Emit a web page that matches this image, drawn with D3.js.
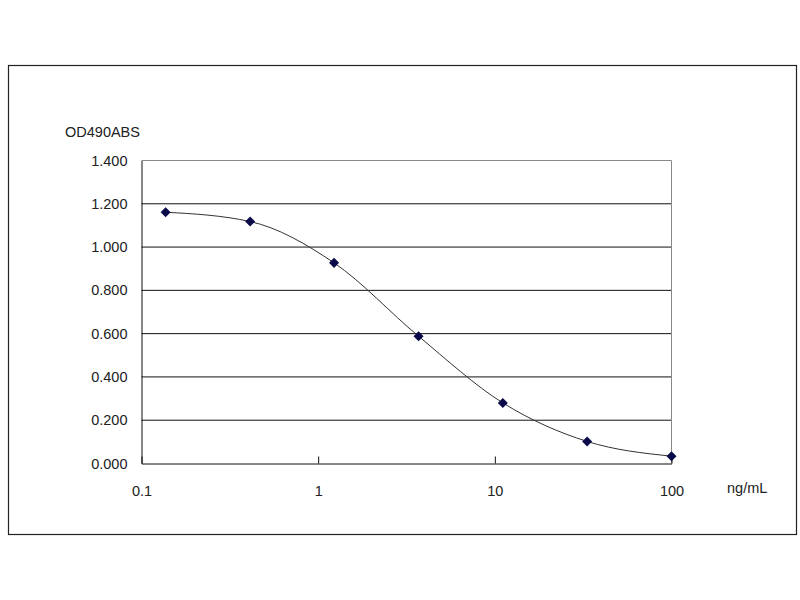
<!DOCTYPE html>
<html>
<head>
<meta charset="utf-8">
<script src="https://cdn.jsdelivr.net/npm/d3@7"></script>
<style>
  body { margin: 0; background: #fff; }
  text { font-family: "Liberation Sans", Arial, sans-serif; font-size: 14.5px; fill: #222; }
</style>
</head>
<body>
<div id="chart"></div>
<script>
// concentrations (ng/mL) and OD490 absorbance
const conc = [0.137, 0.412, 1.23, 3.70, 11.1, 33.3, 100];
const od = [1.161, 1.118, 0.927, 0.588, 0.280, 0.102, 0.034];
const xTicks = [0.1, 1, 10, 100];
const yTicks = [0, 0.2, 0.4, 0.6, 0.8, 1.0, 1.2, 1.4];

const width = 800;
const height = 600;
const margin = { top: 160.5, right: 128.5, bottom: 136.5, left: 141.5 };
const chartWidth = width - margin.left - margin.right;
const chartHeight = height - margin.top - margin.bottom;

const svg = d3.select("#chart")
  .append("svg")
  .attr("width", width)
  .attr("height", height);

// outer frame
svg.append("rect")
  .attr("x", 8.5)
  .attr("y", 65.5)
  .attr("width", 788)
  .attr("height", 469)
  .attr("fill", "none")
  .attr("stroke", "#222")
  .attr("stroke-width", 1.2);

const g = svg.append("g")
  .attr("transform", `translate(${margin.left},${margin.top})`);

const x = d3.scaleLog()
  .domain([0.1, 100])
  .range([0, chartWidth]);

const y = d3.scaleLinear()
  .domain([0, 1.4])
  .range([chartHeight, 0]);

// gridlines
g.selectAll("line.grid")
  .data(yTicks.filter(d => d > 0 && d < 1.4))
  .enter()
  .append("line")
  .attr("class", "grid")
  .attr("x1", 0)
  .attr("x2", chartWidth)
  .attr("y1", d => y(d))
  .attr("y2", d => y(d))
  .attr("stroke", "#111")
  .attr("stroke-width", 1);

// plot border top / right (gray)
g.append("path")
  .attr("d", `M0,${y(1.4)}H${chartWidth}V${chartHeight}`)
  .attr("fill", "none")
  .attr("stroke", "#888")
  .attr("stroke-width", 1);

// x axis
const xAxis = d3.axisBottom(x)
  .tickValues(xTicks)
  .tickFormat(d3.format("~g"))
  .tickSizeInner(-7)
  .tickSizeOuter(0)
  .tickPadding(22);

const gx = g.append("g")
  .attr("transform", `translate(0,${chartHeight})`)
  .call(xAxis);
gx.select(".domain").attr("stroke", "#111");
gx.selectAll(".tick line").attr("stroke", "#111");
gx.selectAll(".tick text")
  .style("font-family", "Liberation Sans, Arial, sans-serif")
  .style("font-size", "14.5px")
  .attr("fill", "#222");

// y axis
const yAxis = d3.axisLeft(y)
  .tickValues(yTicks)
  .tickFormat(d3.format(".3f"))
  .tickSize(0)
  .tickPadding(14);

const gy = g.append("g").call(yAxis);
gy.select(".domain").attr("stroke", "#111");
gy.selectAll(".tick text")
  .style("font-family", "Liberation Sans, Arial, sans-serif")
  .style("font-size", "14.5px")
  .attr("fill", "#222");

const points = conc.map((c, i) => ({ c, v: od[i] }));

// curve through the points
const line = d3.line()
  .x(d => x(d.c))
  .y(d => y(d.v))
  .curve(d3.curveMonotoneX);

g.append("path")
  .datum(points)
  .attr("d", line)
  .attr("fill", "none")
  .attr("stroke", "#333")
  .attr("stroke-width", 1);

// diamond markers
g.selectAll("path.pt")
  .data(points)
  .enter()
  .append("path")
  .attr("class", "pt")
  .attr("d", d3.symbol(d3.symbolDiamond2, 64))
  .attr("transform", d => `translate(${x(d.c)},${y(d.v)})`)
  .attr("fill", "#0a0a4a");

// axis titles
svg.append("text")
  .attr("x", 65)
  .attr("y", 137)
  .text("OD490ABS");

svg.append("text")
  .attr("x", 727)
  .attr("y", 493)
  .text("ng/mL");
</script>
</body>
</html>
